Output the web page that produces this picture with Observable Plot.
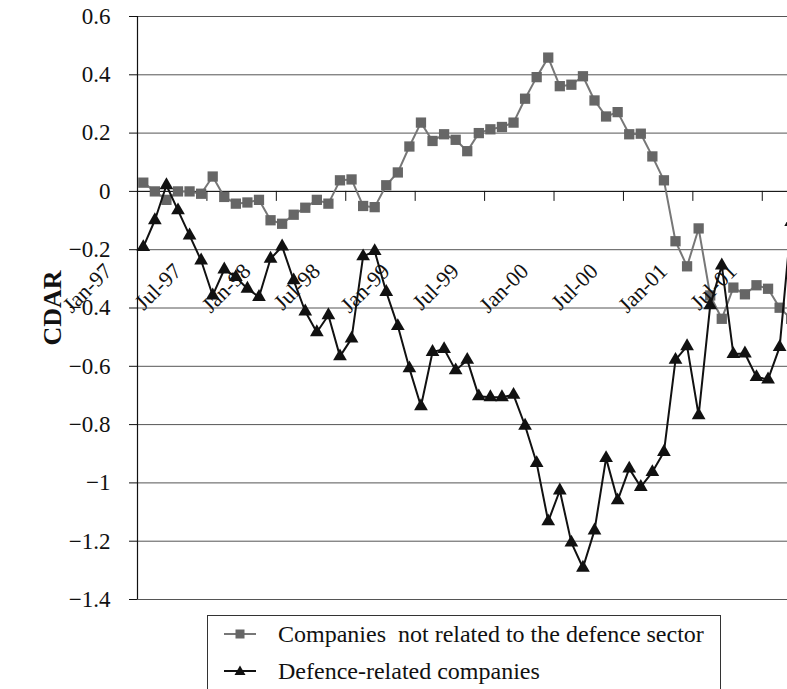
<!DOCTYPE html>
<html><head><meta charset="utf-8">
<script src="https://cdn.jsdelivr.net/npm/d3@7"></script>
<script src="https://cdn.jsdelivr.net/npm/@observablehq/plot@0.6"></script>
<style>
html,body{margin:0;padding:0;background:#fff;overflow:hidden;}
#chart{position:relative;width:787px;height:689px;overflow:hidden;font-family:"Liberation Serif","Times New Roman",serif;color:#111;}
#chart svg{overflow:hidden !important;display:block;}
.legend{position:relative;margin-left:207px;margin-top:3px;width:514px;height:100px;border:1px solid #333;box-sizing:border-box;background:#fff;}
.row{position:absolute;left:0;height:37px;line-height:37px;font-size:24px;white-space:pre;}
.row svg{position:absolute;left:15px;top:0;}
.row span{position:absolute;left:70px;top:0;}
</style></head><body><div id="chart"></div>
<script>
const months = ["Jan-97","Feb-97","Mar-97","Apr-97","May-97","Jun-97","Jul-97","Aug-97","Sep-97","Oct-97","Nov-97","Dec-97",
"Jan-98","Feb-98","Mar-98","Apr-98","May-98","Jun-98","Jul-98","Aug-98","Sep-98","Oct-98","Nov-98","Dec-98",
"Jan-99","Feb-99","Mar-99","Apr-99","May-99","Jun-99","Jul-99","Aug-99","Sep-99","Oct-99","Nov-99","Dec-99",
"Jan-00","Feb-00","Mar-00","Apr-00","May-00","Jun-00","Jul-00","Aug-00","Sep-00","Oct-00","Nov-00","Dec-00",
"Jan-01","Feb-01","Mar-01","Apr-01","May-01","Jun-01","Jul-01","Aug-01","Sep-01"];

const nonDefence = [0.030,0.000,-0.029,0.000,0.000,-0.008,0.051,-0.019,-0.042,-0.038,-0.029,-0.099,
-0.111,-0.080,-0.056,-0.029,-0.042,0.038,0.041,-0.050,-0.054,0.021,0.065,0.154,
0.236,0.173,0.196,0.177,0.138,0.200,0.213,0.221,0.236,0.318,0.392,0.459,
0.361,0.366,0.395,0.312,0.257,0.272,0.196,0.198,0.120,0.038,-0.171,-0.257,
-0.127,-0.357,-0.437,-0.330,-0.353,-0.322,-0.334,-0.399,-0.437];

const defence = [-0.191,-0.099,0.021,-0.065,-0.151,-0.237,-0.357,-0.268,-0.294,-0.334,-0.362,-0.231,
-0.189,-0.305,-0.412,-0.483,-0.425,-0.566,-0.505,-0.223,-0.205,-0.345,-0.462,-0.607,
-0.737,-0.551,-0.541,-0.614,-0.578,-0.703,-0.706,-0.706,-0.698,-0.804,-0.932,-1.132,
-1.026,-1.205,-1.291,-1.163,-0.915,-1.060,-0.951,-1.014,-0.963,-0.894,-0.578,-0.531,
-0.768,-0.391,-0.254,-0.558,-0.556,-0.637,-0.645,-0.534,-0.105];

const xTickLabels = ["Jan-97","Jul-97","Jan-98","Jul-98","Jan-99","Jul-99","Jan-00","Jul-00","Jan-01","Jul-01"];
const yTicks = [0.6,0.4,0.2,0,-0.2,-0.4,-0.6,-0.8,-1,-1.2,-1.4];
const seriesNames = ["Companies  not related to the defence sector","Defence-related companies"];
const yTitle = "CDAR";

const greyLine = "#777777", greyMark = "#666666", blackLine = "#111111";

const rowsA = months.map((m,i)=>({i, m, v: nonDefence[i]}));
const rowsB = months.map((m,i)=>({i, m, v: defence[i]}));
const tickPos = xTickLabels.map(l => months.indexOf(l) - 0.5);
const fmt = d3.format("~g");
const yMid = (d3.max(yTicks) + d3.min(yTicks)) / 2;

const svg = Plot.plot({
  width: 787, height: 612,
  marginLeft: 137, marginRight: 0, marginTop: 16, marginBottom: 13,
  style: {fontFamily: "'Liberation Serif','Times New Roman',serif", fontSize: "22px", color: "#111", background: "white"},
  x: {type: "linear", domain: [-0.5, 55.68], axis: null},
  y: {type: "linear", domain: [-1.4, 0.6], axis: null},
  marks: [
    Plot.ruleY(yTicks, {y: d => d, stroke: "#555", strokeWidth: 1}),
    Plot.ruleY(yTicks, {y: d => d, x1: () => -0.5, x2: () => -0.5, insetLeft: -8, stroke: "#111"}),
    Plot.ruleY([0], {y: d => d, stroke: "#111", strokeWidth: 1}),
    Plot.ruleX([-0.5], {x: d => d, stroke: "#111", strokeWidth: 1.2}),
    Plot.ruleX(tickPos, {x: d => d, y1: () => 0, y2: () => 0, insetBottom: -10, stroke: "#111"}),
    Plot.text(yTicks, {x: () => -0.5, y: d => d, text: d => fmt(d), textAnchor: "end", dx: -27, fontSize: 23, fill: "#111"}),
    Plot.text([yTitle], {x: () => -0.5, y: () => yMid, text: d => d, rotate: -90, textAnchor: "middle", dx: -85, fontWeight: "bold", fontSize: 26, fill: "#111"}),
    Plot.line(rowsA, {x: "i", y: "v", stroke: greyLine, strokeWidth: 2}),
    Plot.dot(rowsA, {x: "i", y: "v", symbol: "square", r: 5.8, fill: greyMark, stroke: "none"}),
    Plot.line(rowsB, {x: "i", y: "v", stroke: blackLine, strokeWidth: 2}),
    Plot.dot(rowsB, {x: "i", y: "v", symbol: "triangle", r: 5.1, fill: blackLine, stroke: "none"}),
    Plot.text(xTickLabels, {x: d => months.indexOf(d), y: () => 0, text: d => d, rotate: -45, textAnchor: "end", lineAnchor: "bottom", dx: -30, dy: 81, fontSize: 22, fill: "#111"})
  ]
});

const chart = document.getElementById("chart");
chart.appendChild(svg);

const legend = document.createElement("div");
legend.className = "legend";
const symbols = [
  `<svg width="34" height="37"><line x1="1" x2="33" y1="18" y2="18" stroke="${greyLine}" stroke-width="2"/><rect x="12.5" y="13.5" width="9" height="9" fill="${greyMark}"/></svg>`,
  `<svg width="34" height="37"><line x1="1" x2="33" y1="18" y2="18" stroke="${blackLine}" stroke-width="2"/><path d="M17,12.5 L22.5,22 L11.5,22 Z" fill="${blackLine}"/></svg>`
];
seriesNames.forEach((name, k) => {
  const row = document.createElement("div");
  row.className = "row";
  row.style.top = (k * 37) + "px";
  row.innerHTML = symbols[k];
  const span = document.createElement("span");
  span.textContent = name;
  row.appendChild(span);
  legend.appendChild(row);
});
chart.appendChild(legend);
</script>
</body></html>
